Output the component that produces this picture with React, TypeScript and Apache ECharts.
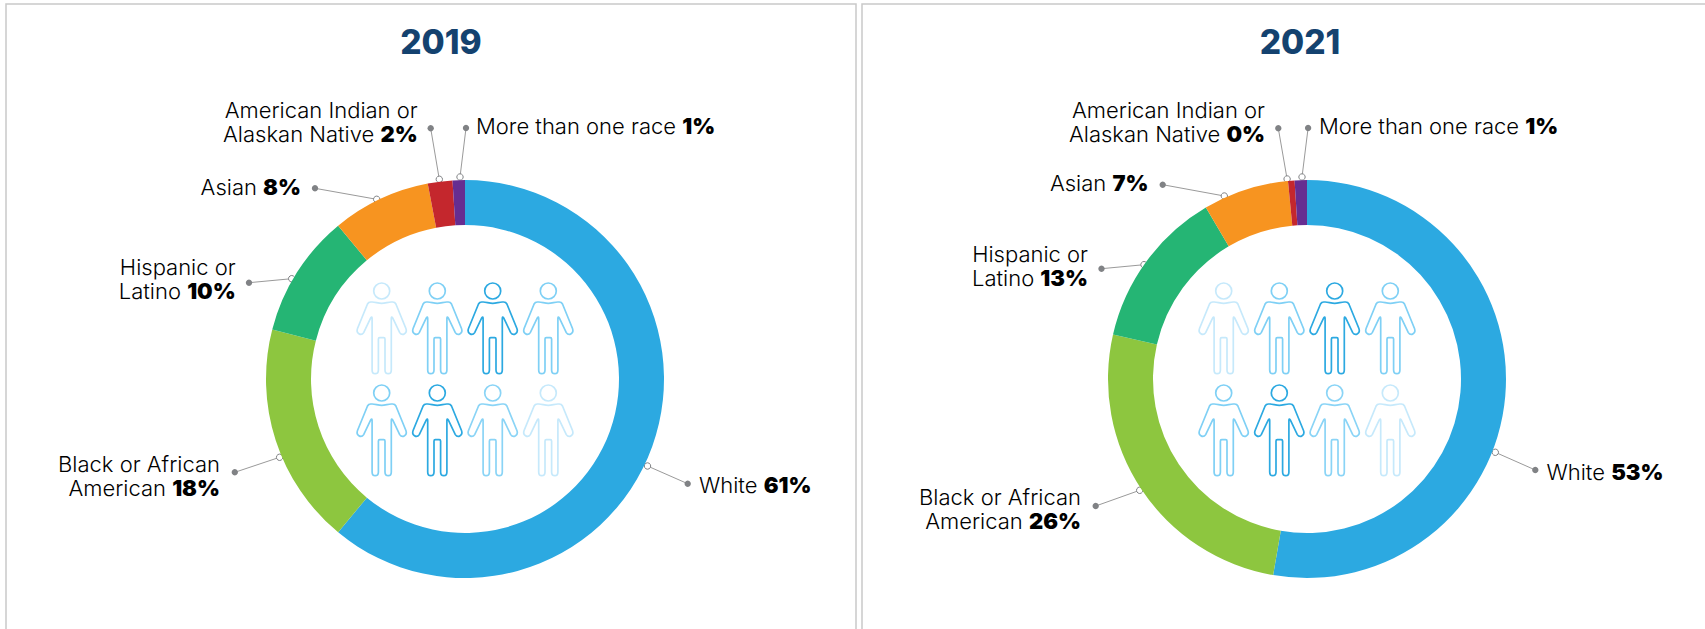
import React, { useEffect, useRef } from "react";
import * as echarts from "echarts";

const categories = [
  "White",
  "Black or African\nAmerican",
  "Hispanic or\nLatino",
  "Asian",
  "American Indian or\nAlaskan Native",
  "More than one race",
];
const values2019 = [61, 18, 10, 8, 2, 1];
const values2021 = [53, 26, 13, 7, 0, 1];
const colors = ["#2CA9E1", "#8DC63F", "#25B574", "#F79420", "#C4272D", "#662D91"];
const years = ["2019", "2021"];

// Callout geometry per slice: ring anchor, outer dot, text anchor, text alignment.
type Callout = { ring: number[]; dot: number[]; text: number[]; align: "left" | "right" };
const callouts2019: Callout[] = [
  { ring: [647.5, 466], dot: [687.7, 483.7], text: [699, 485], align: "left" },
  { ring: [279.6, 457.3], dot: [234.8, 472.3], text: [220, 475.5], align: "right" },
  { ring: [291.7, 278.7], dot: [249, 282.7], text: [235.7, 279], align: "right" },
  { ring: [376.7, 199.3], dot: [315, 188.3], text: [301, 186.7], align: "right" },
  { ring: [439.3, 179.3], dot: [430.7, 128.3], text: [417.7, 122], align: "right" },
  { ring: [460, 177], dot: [466, 128], text: [476, 126], align: "left" },
];
const callouts2021: Callout[] = [
  { ring: [1495.3, 452.3], dot: [1535.3, 470], text: [1546.5, 472.3], align: "left" },
  { ring: [1139.7, 490.3], dot: [1095.7, 506], text: [1081, 509], align: "right" },
  { ring: [1144, 264.7], dot: [1101.5, 268.7], text: [1088, 266], align: "right" },
  { ring: [1224.3, 196], dot: [1162.7, 184.7], text: [1148.5, 183], align: "right" },
  { ring: [1287.1, 179], dot: [1278.3, 128.3], text: [1265, 122], align: "right" },
  { ring: [1302, 177], dot: [1308.1, 128], text: [1319, 126], align: "left" },
];

const WIDTH = 1705;
const HEIGHT = 629;
const FONT = "Inter";
const centers = [465, 1307];
const CENTER_Y = 379;
const titleCenters = [436, 1295];
const panels = [
  [6, 856],
  [862, 1712],
];

// Outlined standing figure, origin at the centre of the head.
const PERSON =
  "M8 0A8 8 0 1 1-8 0A8 8 0 1 1 8 0Z" +
  "M0 12.3C-3.5 12.3-6.5 11-9.5 11L-11 11Q-13.2 11-14.2 13L-24.2 37.5Q-25.5 41-22.8 42.8Q-20 44.6-18 41.6" +
  "L-11 27Q-9.6 24.8-9.6 27.6L-9.6 79Q-9.6 82.7-6.6 82.7Q-3.3 82.7-3.3 79L-3.3 48Q-3.3 46.7-2 46.7" +
  "L2 46.7Q3.3 46.7 3.3 48L3.3 79Q3.3 82.7 6.6 82.7Q9.6 82.7 9.6 79L9.6 27.6Q9.6 24.8 11 27" +
  "L18 41.6Q20 44.6 22.8 42.8Q25.5 41 24.2 37.5L14.2 13Q13.2 11 11 11L9.5 11C6.5 11 3.5 12.3 0 12.3Z";
echarts.graphic.registerShape("person", echarts.graphic.extendPath(PERSON, {}));

const PERSON_COLS = [-83.3, -27.7, 27.7, 83.3];
const PERSON_ROWS = [291, 393];
const PERSON_TINTS = [
  ["#C6E9FB", "#7FD0F5", "#2CA9E1", "#7FD0F5"],
  ["#7FD0F5", "#2CA9E1", "#8AD4F6", "#C6E9FB"],
];

function pieSeries(values: number[], center: number, notes: Callout[]) {
  return {
    type: "pie",
    silent: true,
    center: [center, CENTER_Y],
    radius: [154, 199],
    startAngle: 90,
    clockwise: true,
    minAngle: 1.9,
    avoidLabelOverlap: false,
    labelLine: { show: false },
    label: {
      show: true,
      position: "outside",
      formatter: (p: any) => {
        const lines = String(p.name).split("\n");
        const last = lines.pop();
        const head = lines.map((l) => `{t|${l}}\n`).join("");
        return `${head}{t|${last} }{b|${p.value}%}`;
      },
      rich: {
        t: { fontFamily: FONT, fontSize: 22, fontWeight: 300, color: "#000", lineHeight: 24, letterSpacing: -0.35 },
        b: { fontFamily: FONT, fontSize: 22, fontWeight: 900, color: "#000", lineHeight: 24, letterSpacing: -1.3 },
      },
    },
    labelLayout: (p: any) => {
      const n = notes[p.dataIndex];
      return { x: n.text[0], y: n.text[1], align: n.align, verticalAlign: "middle", hideOverlap: false };
    },
    data: categories.map((name, i) => ({
      name,
      value: values[i],
      itemStyle: { color: colors[i] },
      label: {
        align: notes[i].align,
        rich: {
          t: { align: notes[i].align },
          b: { align: notes[i].align },
        },
      },
    })),
  };
}

function calloutGraphics(notes: Callout[]) {
  const out: any[] = [];
  notes.forEach((n) => {
    out.push({
      type: "line",
      silent: true,
      shape: { x1: n.ring[0], y1: n.ring[1], x2: n.dot[0], y2: n.dot[1] },
      style: { stroke: "#9A9A9A", lineWidth: 1 },
    });
    out.push({
      type: "circle",
      silent: true,
      shape: { cx: n.dot[0], cy: n.dot[1], r: 3.2 },
      style: { fill: "#808285" },
    });
    out.push({
      type: "circle",
      silent: true,
      shape: { cx: n.ring[0], cy: n.ring[1], r: 3.2 },
      style: { fill: "#FFFFFF", stroke: "#808285", lineWidth: 1 },
    });
  });
  return out;
}

function peopleGraphics(center: number) {
  const out: any[] = [];
  PERSON_ROWS.forEach((y, r) => {
    PERSON_COLS.forEach((dx, c) => {
      out.push({
        type: "person",
        silent: true,
        x: center + dx,
        y,
        style: { fill: "none", stroke: PERSON_TINTS[r][c], lineWidth: 1.7 },
      });
    });
  });
  return out;
}

function panelGraphics() {
  return panels.map(([l, r]) => ({
    type: "polyline",
    silent: true,
    shape: { points: [[l, HEIGHT + 4], [l, 4], [r, 4], [r, HEIGHT + 4]] },
    style: { stroke: "#C9C9C9", lineWidth: 1.5, fill: "none" },
  }));
}

export default function App() {
  const ref = useRef<HTMLDivElement>(null);

  useEffect(() => {
    document.body.style.margin = "0";
    const chart = echarts.init(ref.current!, undefined, { renderer: "svg" });
    chart.setOption({
      animation: false,
      backgroundColor: "#FFFFFF",
      title: years.map((text, i) => ({
        text,
        left: titleCenters[i],
        top: 20,
        textAlign: "center",
        textStyle: { fontFamily: FONT, fontSize: 33.5, fontWeight: 800, color: "#14426F", letterSpacing: -1.5 },
      })),
      series: [
        pieSeries(values2019, centers[0], callouts2019),
        pieSeries(values2021, centers[1], callouts2021),
      ],
      graphic: {
        elements: [
          ...panelGraphics(),
          ...calloutGraphics(callouts2019),
          ...calloutGraphics(callouts2021),
          ...peopleGraphics(centers[0]),
          ...peopleGraphics(centers[1]),
        ],
      },
    });
    return () => chart.dispose();
  }, []);

  return <div ref={ref} style={{ width: WIDTH, height: HEIGHT }} />;
}
